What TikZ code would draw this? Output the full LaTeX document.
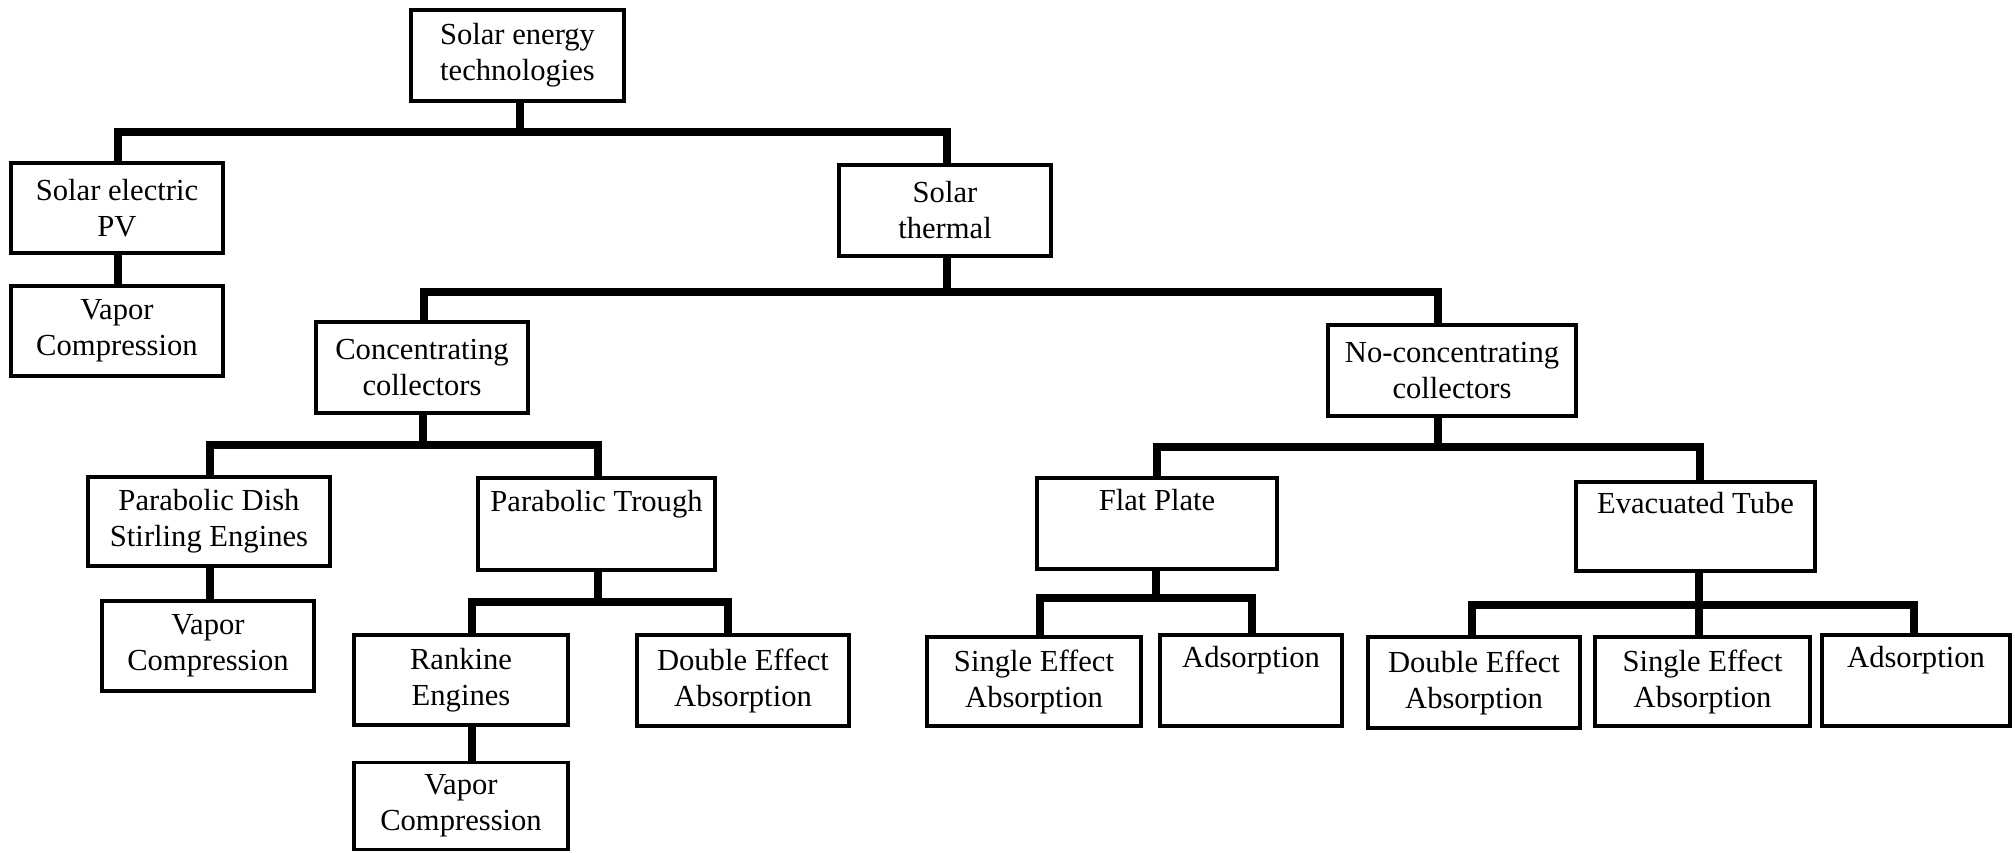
\documentclass[tikz,border=0pt]{standalone}
\usepackage{fontspec}
\setmainfont{Liberation Serif}

\tikzset{
  box/.style={draw, line width=3.5pt, align=center, inner sep=0pt,
    font=\fontsize{30.6}{36}\selectfont},
  conn/.style={line width=8pt}
}

\begin{document}
\begin{tikzpicture}[x=1pt,y=-1pt]
\useasboundingbox[fill=white] (0,0) rectangle (2015,852);

% level 0 and 1
\node[box, minimum width=213pt, minimum height=91pt] (tech) at (517.5,55.5) {Solar energy\\technologies};
\node[box, minimum width=212pt, minimum height=90pt] (pv) at (117,208) {Solar electric\\PV};
\node[box, minimum width=212pt, minimum height=90pt] (vcpv) at (117,331) {Vapor\\Compression};
\node[box, minimum width=212pt, minimum height=91pt] (therm) at (945,210.5) {Solar\\thermal};

% level 2
\node[box, minimum width=212pt, minimum height=91pt] (conc) at (422,367.5) {Concentrating\\collectors};
\node[box, minimum width=248pt, minimum height=91pt] (nconc) at (1452,370.5) {No-concentrating\\collectors};

% concentrating branch
\node[box, minimum width=242pt, minimum height=89pt] (dish) at (209,521.5) {Parabolic Dish\\Stirling Engines};
\node[box, minimum width=237pt, minimum height=92pt] (trough) at (596.5,524) {Parabolic Trough\\\strut};
\node[box, minimum width=212pt, minimum height=90pt] (vcdish) at (208,646) {Vapor\\Compression};
\node[box, minimum width=214pt, minimum height=90pt] (rank) at (461,680) {Rankine\\Engines};
\node[box, minimum width=212pt, minimum height=91pt] (deat) at (743,680.5) {Double Effect\\Absorption};
\node[box, minimum width=214pt, minimum height=87pt] (vcrank) at (461,806) {Vapor\\Compression};

% non-concentrating branch
\node[box, minimum width=240pt, minimum height=91pt] (flat) at (1157,523.5) {Flat Plate\\\strut};
\node[box, minimum width=239pt, minimum height=89pt] (evac) at (1695.5,526.5) {Evacuated Tube\\\strut};
\node[box, minimum width=214pt, minimum height=89pt] (seaf) at (1034,681.5) {Single Effect\\Absorption};
\node[box, minimum width=182pt, minimum height=91pt] (adsf) at (1251,680.5) {Adsorption\\\strut};
\node[box, minimum width=212pt, minimum height=91pt] (deae) at (1474,682.5) {Double Effect\\Absorption};
\node[box, minimum width=215pt, minimum height=89pt] (seae) at (1702.5,681.5) {Single Effect\\Absorption};
\node[box, minimum width=188pt, minimum height=91pt] (adse) at (1916,680.5) {Adsorption\\\strut};

% bus bars
\coordinate (b1) at (520,132);  \coordinate (b1l) at (118,132);  \coordinate (b1r) at (947,132);
\coordinate (b2) at (947,292);  \coordinate (b2l) at (424,292);  \coordinate (b2r) at (1438,292);
\coordinate (b3) at (423,445);  \coordinate (b3l) at (210,445);  \coordinate (b3r) at (598,445);
\coordinate (b4) at (598,602);  \coordinate (b4l) at (472,602);  \coordinate (b4r) at (728,602);
\coordinate (b5) at (1438,447); \coordinate (b5l) at (1157,447); \coordinate (b5r) at (1700,447);
\coordinate (b6) at (1156,598); \coordinate (b6l) at (1040,598); \coordinate (b6r) at (1252,598);
\coordinate (b7) at (1699,605); \coordinate (b7l) at (1472,605); \coordinate (b7r) at (1914,605);

\draw[conn] (tech.south -| b1) -- (b1);
\draw[conn] (pv.north -| b1l) |- (b1r) -- (b1r |- therm.north);

\draw[conn] (therm.south -| b2) -- (b2);
\draw[conn] (conc.north -| b2l) |- (b2r) -- (b2r |- nconc.north);

\draw[conn] (conc.south -| b3) -- (b3);
\draw[conn] (dish.north -| b3l) |- (b3r) -- (b3r |- trough.north);

\draw[conn] (trough.south -| b4) -- (b4);
\draw[conn] (rank.north -| b4l) |- (b4r) -- (b4r |- deat.north);

\draw[conn] (nconc.south -| b5) -- (b5);
\draw[conn] (flat.north -| b5l) |- (b5r) -- (b5r |- evac.north);

\draw[conn] (flat.south -| b6) -- (b6);
\draw[conn] (seaf.north -| b6l) |- (b6r) -- (b6r |- adsf.north);

\draw[conn] (evac.south -| b7) -- (b7 |- seae.north);
\draw[conn] (deae.north -| b7l) |- (b7r) -- (b7r |- adse.north);

% single children
\draw[conn] (pv.south -| b1l) -- (vcpv.north -| b1l);
\draw[conn] (dish.south -| b3l) -- (vcdish.north -| b3l);
\draw[conn] (rank.south -| b4l) -- (vcrank.north -| b4l);
\end{tikzpicture}
\end{document}
